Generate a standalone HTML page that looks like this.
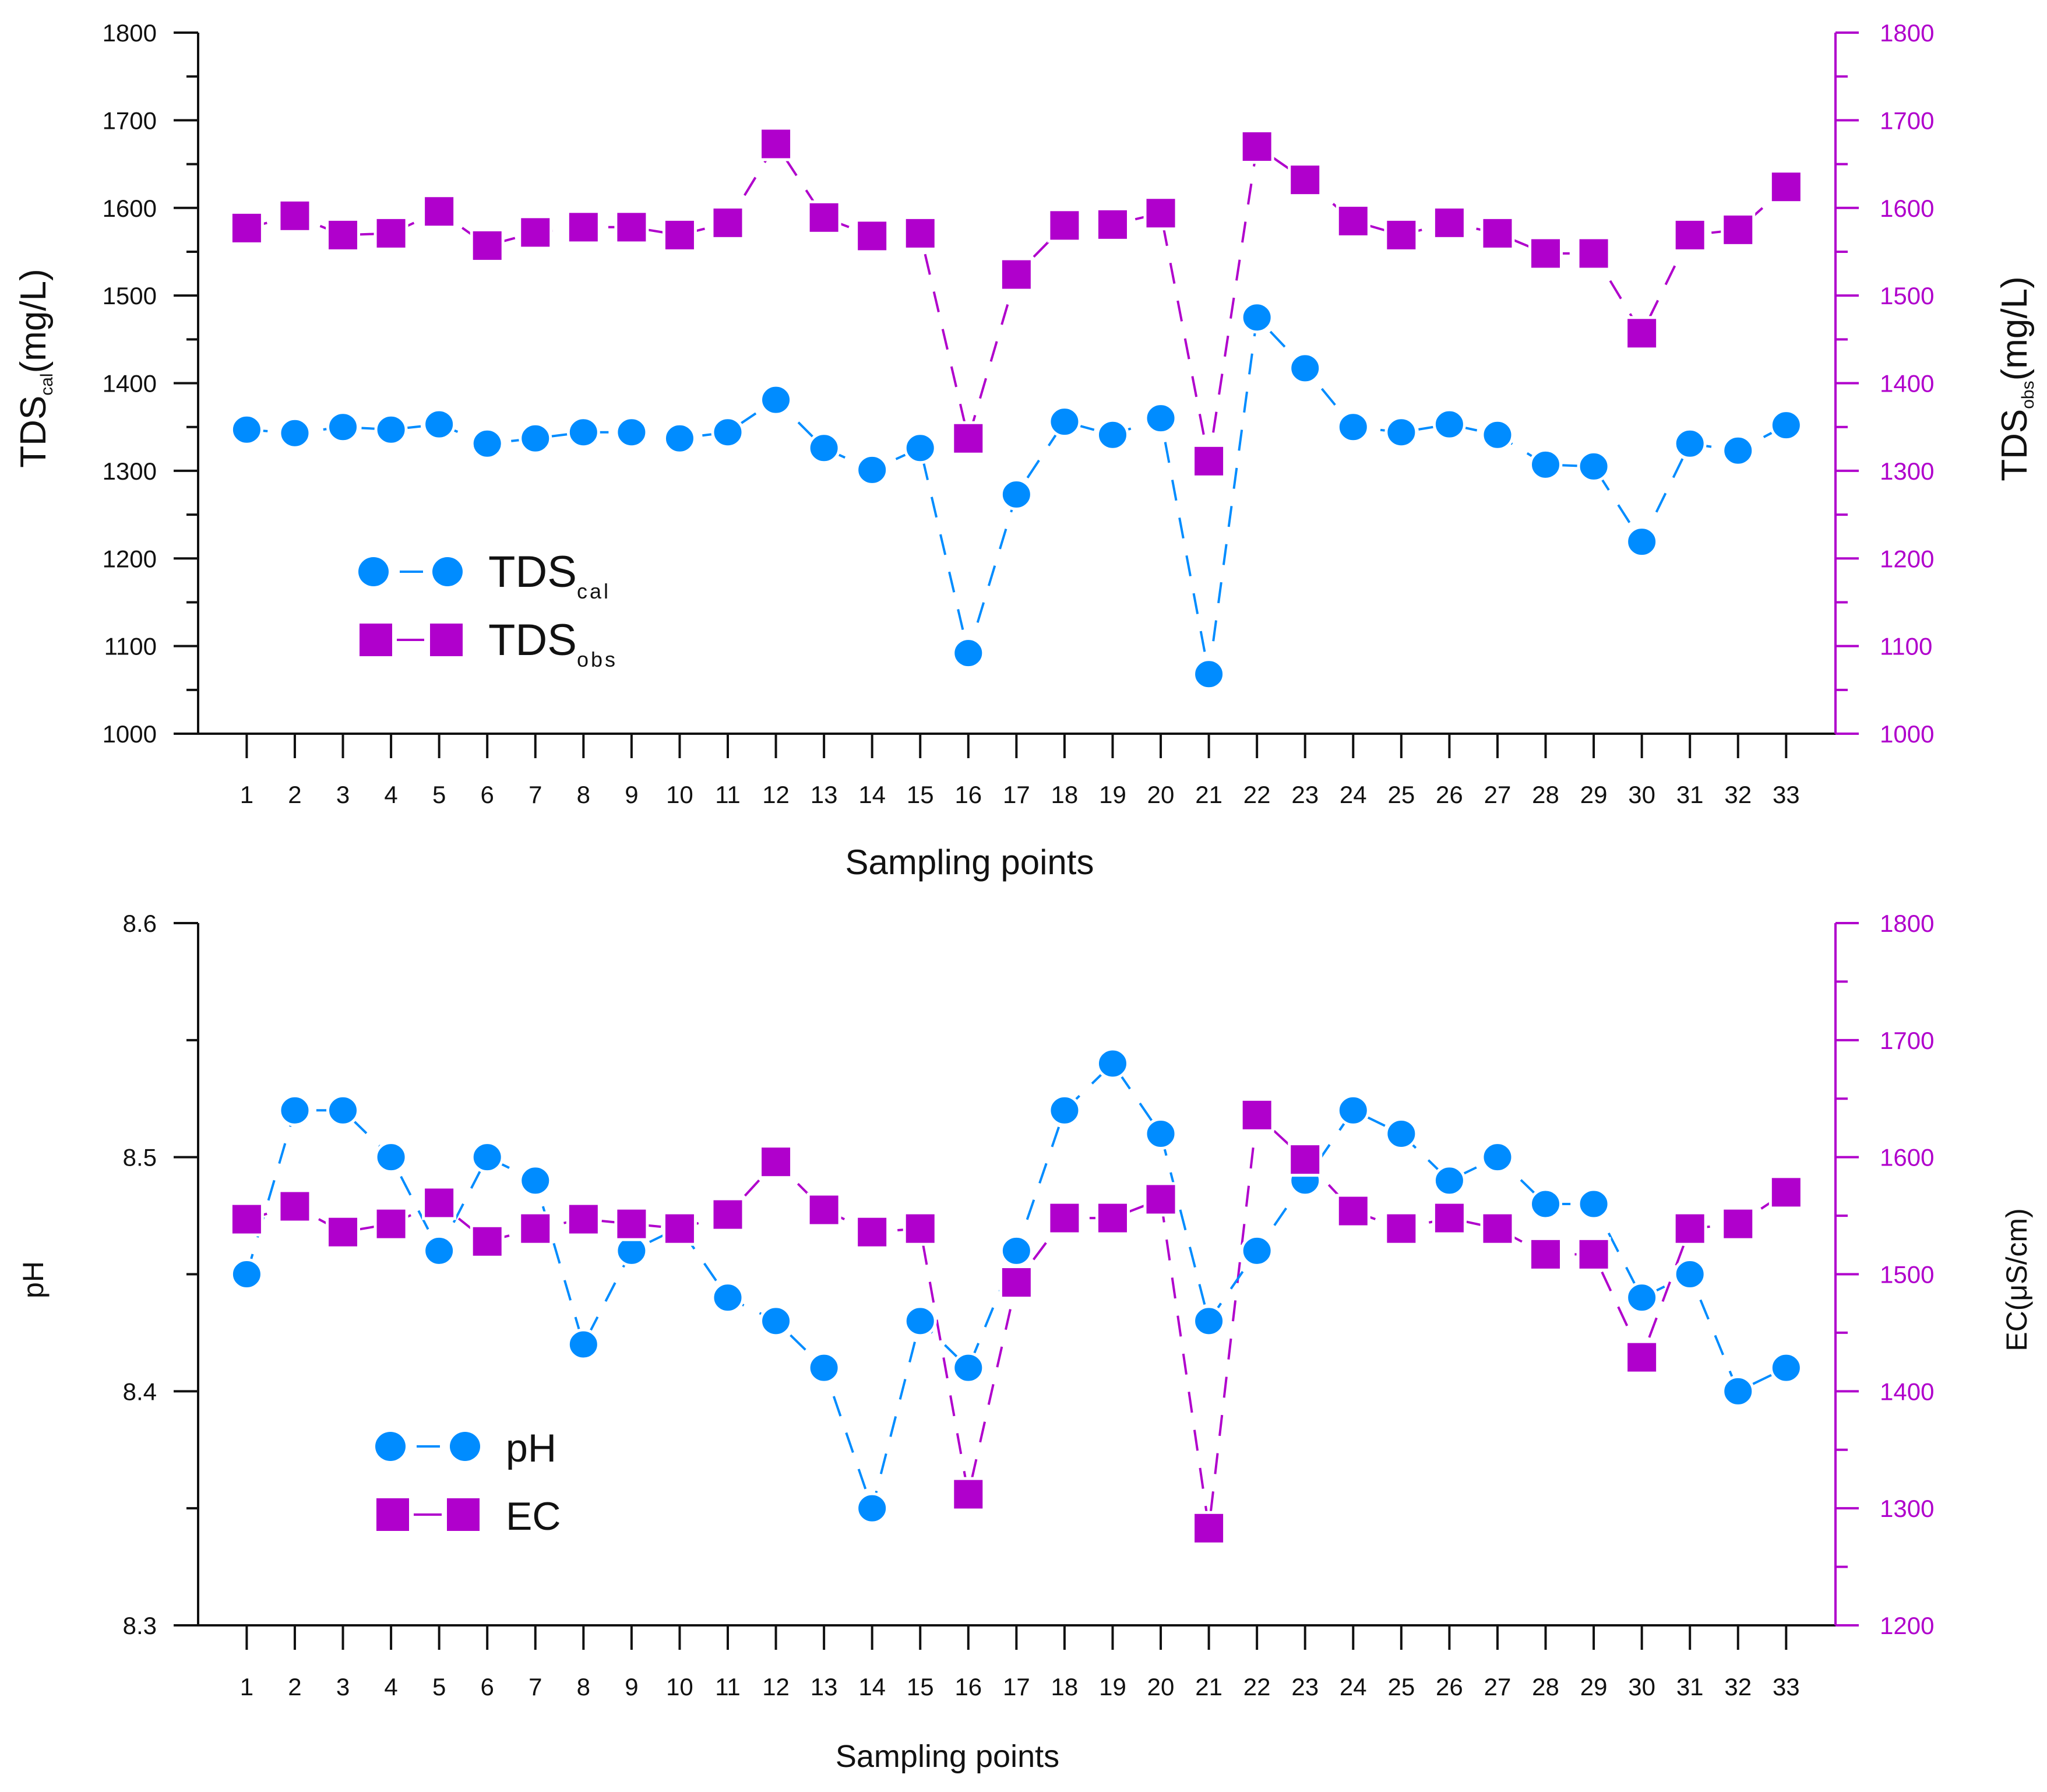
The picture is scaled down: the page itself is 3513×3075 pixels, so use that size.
<!DOCTYPE html>
<html><head><meta charset="utf-8"><style>
html,body{margin:0;padding:0;background:#fff;}
svg{display:block;font-family:"Liberation Sans",sans-serif;}
</style></head><body>
<svg id="chart" width="3513" height="3075" viewBox="0 0 3513 3075" xmlns="http://www.w3.org/2000/svg"></svg>
<script>
const points = [1,2,3,4,5,6,7,8,9,10,11,12,13,14,15,16,17,18,19,20,21,22,23,24,25,26,27,28,29,30,31,32,33];
const tdsCal = [1347,1343,1350,1347,1353,1331,1337,1344,1344,1337,1344,1381,1326,1301,1326,1092,1273,1356,1341,1360,1068,1475,1417,1350,1344,1353,1341,1307,1305,1219,1331,1323,1352];
const tdsObs = [1577,1591,1569,1571,1596,1557,1572,1578,1578,1569,1583,1673,1589,1568,1571,1337,1524,1580,1581,1594,1311,1670,1632,1585,1569,1583,1571,1548,1548,1457,1569,1575,1624];
const phVals = [8.45,8.52,8.52,8.50,8.46,8.50,8.49,8.42,8.46,8.47,8.44,8.43,8.41,8.35,8.43,8.41,8.46,8.52,8.54,8.51,8.43,8.46,8.49,8.52,8.51,8.49,8.50,8.48,8.48,8.44,8.45,8.40,8.41];
const ecVals = [1547,1558,1536,1543,1561,1528,1539,1547,1543,1539,1551,1596,1555,1536,1539,1312,1493,1548,1548,1564,1283,1636,1598,1554,1539,1548,1539,1517,1517,1429,1539,1543,1570];
const tdsTicks = [1000,1100,1200,1300,1400,1500,1600,1700,1800];
const phTicks = [8.3,8.4,8.5,8.6];
const ecTicks = [1200,1300,1400,1500,1600,1700,1800];

const NS = "http://www.w3.org/2000/svg";
const svg = document.getElementById('chart');
const BLUE = "#008CFF", MAG = "#B000CC", BLK = "#111";
function el(tag, attrs, parent, text) {
  const e = document.createElementNS(NS, tag);
  for (const k in attrs) e.setAttribute(k, attrs[k]);
  if (text !== undefined) e.textContent = text;
  (parent || svg).appendChild(e);
  return e;
}
const XL = 340, XR = 3150, X1 = 423.4, DX = 82.56;
const xPos = i => X1 + i * DX;

function panel(cfg) {
  const g = el('g', {});
  
  
  const yL = v => cfg.yBot - (v - cfg.lMin) / (cfg.lMax - cfg.lMin) * (cfg.yBot - cfg.yTop);
  const yR = v => cfg.yBot - (v - cfg.rMin) / (cfg.rMax - cfg.rMin) * (cfg.yBot - cfg.yTop);
  const la = el('line', {x1: XL, y1: cfg.yTop, x2: XL, y2: cfg.yBot, stroke: BLK, 'stroke-width': 4}, g);
  
  
  const ba = el('line', {x1: XL - 42, y1: cfg.yBot, x2: XR, y2: cfg.yBot, stroke: BLK, 'stroke-width': 4}, g);
  
  
  const ra = el('line', {x1: XR, y1: cfg.yTop, x2: XR, y2: cfg.yBot, stroke: MAG, 'stroke-width': 4}, g);
  
  
  cfg.lTicks.forEach((v, i) => {
    const y = yL(v);
    el('line', {x1: XL - 42, y1: y, x2: XL, y2: y, stroke: BLK, 'stroke-width': 4}, g);
    if (i < cfg.lTicks.length - 1) {
      const ym = yL(v + cfg.lStep / 2);
      el('line', {x1: XL - 20, y1: ym, x2: XL, y2: ym, stroke: BLK, 'stroke-width': 4}, g);
    }
    const t = el('text', {x: 269, y: y + 15, 'text-anchor': 'end', 'font-size': 42, fill: BLK}, g, cfg.lFmt(v));
    
    
  });
  cfg.rTicks.forEach((v, i) => {
    const y = yR(v);
    el('line', {x1: XR, y1: y, x2: XR + 40, y2: y, stroke: MAG, 'stroke-width': 4}, g);
    if (i < cfg.rTicks.length - 1) {
      const ym = yR(v + cfg.rStep / 2);
      el('line', {x1: XR, y1: ym, x2: XR + 21, y2: ym, stroke: MAG, 'stroke-width': 4}, g);
    }
    const t = el('text', {x: 3226, y: y + 15, 'font-size': 42, fill: MAG}, g, String(v));
    
    
  });
  points.forEach((p, i) => {
    const x = xPos(i);
    el('line', {x1: x, y1: cfg.yBot, x2: x, y2: cfg.yBot + 42, stroke: BLK, 'stroke-width': 4}, g);
    const t = el('text', {x: x, y: cfg.xLabY, 'text-anchor': 'middle', 'font-size': 42, fill: BLK}, g, String(p));
    
    
  });
  const xt = el('text', {x: cfg.xTitleX, y: cfg.xTitleY, 'text-anchor': 'middle', 'font-size': cfg.xTitleSize, fill: BLK}, g, 'Sampling points');
  
  
  const sq = (vals, yf, color, name) => {
    const d = vals.map((v, i) => (i ? 'L' : 'M') + xPos(i).toFixed(1) + ' ' + yf(v).toFixed(1)).join(' ');
    const pth = el('path', {d: d, fill: 'none', stroke: color, 'stroke-width': 4, 'stroke-dasharray': '36 30'}, g);
    
    
  };
  sq(cfg.sR, yR, MAG, cfg.rName);
  sq(cfg.sL, yL, BLUE, cfg.lName);
  cfg.sL.forEach((v, i) => {
    const c = el('ellipse', {cx: xPos(i), cy: yL(v), rx: 26, ry: 25, fill: BLUE, stroke: '#fff', 'stroke-width': 5}, g);
    
    
  });
  cfg.sR.forEach((v, i) => {
    const r = el('rect', {x: xPos(i) - 27, y: yR(v) - 27, width: 54, height: 54, fill: MAG, stroke: '#fff', 'stroke-width': 5}, g);
    
    
  });
  const lg = el('g', {}, g);
  
  
  const L = cfg.leg;
  el('line', {x1: L.cx1, y1: L.cy, x2: L.cx2, y2: L.cy, stroke: BLUE, 'stroke-width': 4, 'stroke-dasharray': '40 100', 'stroke-dashoffset': -45}, lg);
  el('ellipse', {cx: L.cx1, cy: L.cy, rx: 26, ry: 25, fill: BLUE}, lg);
  el('ellipse', {cx: L.cx2, cy: L.cy, rx: 26, ry: 25, fill: BLUE}, lg);
  el('line', {x1: L.cx1 + 40, y1: L.sy, x2: L.cx2 - 40, y2: L.sy, stroke: MAG, 'stroke-width': 4}, lg);
  el('rect', {x: L.sx1 - 28, y: L.sy - 28, width: 56, height: 56, fill: MAG}, lg);
  el('rect', {x: L.sx2 - 28, y: L.sy - 28, width: 56, height: 56, fill: MAG}, lg);
  const t1 = el('text', {x: L.tx, y: L.cy + 26, 'font-size': L.fs, fill: BLK}, lg);
  
  
  t1.innerHTML = L.t1;
  const t2 = el('text', {x: L.tx, y: L.sy + 26, 'font-size': L.fs, fill: BLK}, lg);
  
  
  t2.innerHTML = L.t2;
}

panel({name: 'tds-panel', yTop: 56, yBot: 1259, lMin: 1000, lMax: 1800, rMin: 1000, rMax: 1800,
  lTicks: tdsTicks, rTicks: tdsTicks, lStep: 100, rStep: 100, lFmt: v => String(v),
  sL: tdsCal, sR: tdsObs, lName: 'tds-cal', rName: 'tds-obs',
  xLabY: 1378, xTitleX: 1664, xTitleY: 1500, xTitleSize: 60,
  leg: {cx1: 641, cx2: 768, cy: 981, sx1: 645, sx2: 766, sy: 1098, tx: 838, fs: 76,
    t1: 'TDS<tspan font-size="36" dy="20" letter-spacing="4">cal</tspan>',
    t2: 'TDS<tspan font-size="36" dy="20" letter-spacing="4">obs</tspan>'}});

panel({name: 'ph-ec-panel', yTop: 1584, yBot: 2789, lMin: 8.3, lMax: 8.6, rMin: 1200, rMax: 1800,
  lTicks: phTicks, rTicks: ecTicks, lStep: 0.1, rStep: 100, lFmt: v => v.toFixed(1),
  sL: phVals, sR: ecVals, lName: 'ph', rName: 'ec',
  xLabY: 2909, xTitleX: 1626, xTitleY: 3032, xTitleSize: 54,
  leg: {cx1: 670, cx2: 798, cy: 2482, sx1: 674, sx2: 795, sy: 2599, tx: 868, fs: 68,
    t1: 'pH', t2: 'EC'}});

const yt1 = el('text', {x: 0, y: 0, 'text-anchor': 'middle', 'font-size': 62, fill: BLK, transform: 'translate(78,632) rotate(-90)'});


yt1.innerHTML = 'TDS<tspan font-size="30" dy="12">cal</tspan><tspan dy="-12">(mg/L)</tspan>';
const yt2 = el('text', {x: 0, y: 0, 'text-anchor': 'middle', 'font-size': 62, fill: BLK, transform: 'translate(3478,650) rotate(-90)'});


yt2.innerHTML = 'TDS<tspan font-size="30" dy="12">obs</tspan><tspan dy="-12">(mg/L)</tspan>';
const yt3 = el('text', {x: 0, y: 0, 'text-anchor': 'middle', 'font-size': 50, fill: BLK, transform: 'translate(74,2196) rotate(-90)'}, svg, 'pH');


const yt4 = el('text', {x: 0, y: 0, 'text-anchor': 'middle', 'font-size': 50, fill: BLK, transform: 'translate(3478,2196) rotate(-90)'}, svg, 'EC(μS/cm)');


</script>
</body></html>
